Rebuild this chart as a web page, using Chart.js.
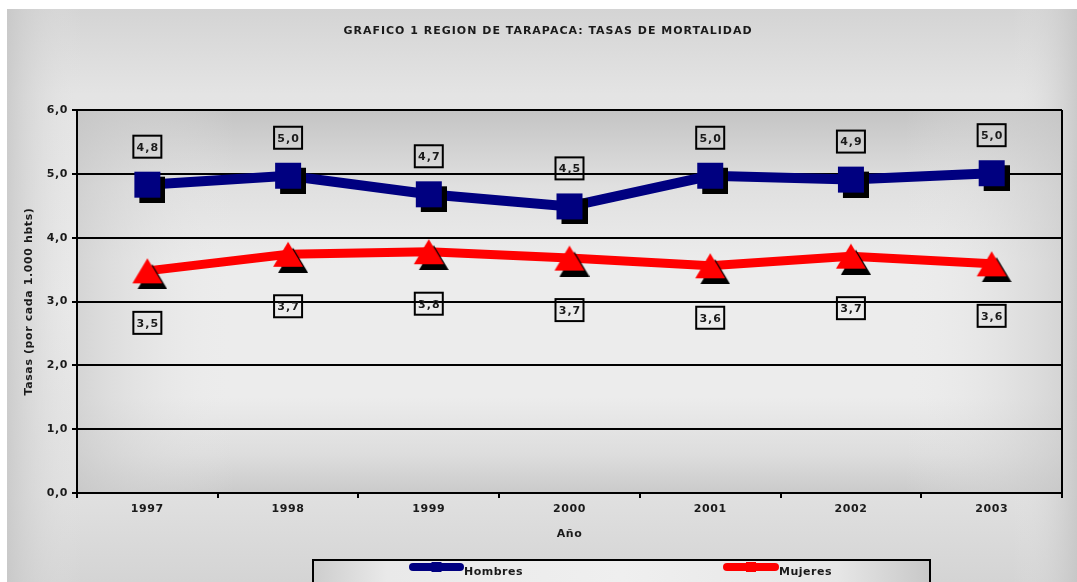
<!DOCTYPE html>
<html>
<head>
<meta charset="utf-8">
<script src="https://cdn.jsdelivr.net/npm/chart.js@4/dist/chart.umd.min.js"></script>
<style>
  html, body { margin: 0; padding: 0; background: #fff; }
  #wrap { width: 1077px; height: 582px; }
</style>
</head>
<body>
<div id="wrap"><canvas id="graph1" width="1077" height="582"></canvas></div>
<script>
const years = ["1997","1998","1999","2000","2001","2002","2003"];
const hombres = [4.83, 4.97, 4.68, 4.49, 4.97, 4.91, 5.01];
const mujeres = [3.48, 3.74, 3.78, 3.68, 3.56, 3.71, 3.59];
const yTicks = [0, 1, 2, 3, 4, 5, 6];

const FONT = "'DejaVu Sans', Verdana, sans-serif";
const fmt = v => v.toFixed(1).replace(".", ",");

// markers with a black drop shadow, drawn once on small canvases
function marker(shape, color, w, h, dx, dy) {
  const c = document.createElement("canvas");
  c.width = w + 2 * dx;
  c.height = h + 2 * dy;
  const g = c.getContext("2d");
  const draw = (ox, oy, col) => {
    g.fillStyle = col;
    g.beginPath();
    if (shape == "rect") {
      g.rect(ox, oy, w, h);
    } else {
      g.moveTo(ox + w / 2, oy);
      g.lineTo(ox + w, oy + h);
      g.lineTo(ox, oy + h);
      g.closePath();
    }
    g.fill();
  };
  draw(2 * dx, 2 * dy, "#000");
  draw(dx, dy, color);
  return c;
}
const sqMark = marker("rect", "#000080", 26, 26, 5, 5);
const triMark = marker("tri", "#ff0000", 30, 25, 5, 6);

function vGrad(ctx, top, bottom, stops) {
  const g = ctx.createLinearGradient(0, top, 0, bottom);
  stops.forEach(s => g.addColorStop(s[0], s[1]));
  return g;
}
function hGrad(ctx, left, right, stops) {
  const g = ctx.createLinearGradient(left, 0, right, 0);
  stops.forEach(s => g.addColorStop(s[0], s[1]));
  return g;
}

const bgPlugin = {
  id: "bg",
  beforeDraw(chart) {
    const ctx = chart.ctx;
    const W = chart.width, H = chart.height;
    ctx.save();
    // outer panel
    const ox = 7, oy = 9;
    ctx.fillStyle = vGrad(ctx, oy, H, [[0, "#d4d4d4"], [0.15, "#e4e4e4"], [0.5, "#eaeaea"], [0.85, "#e0e0e0"], [1, "#d4d4d4"]]);
    ctx.fillRect(ox, oy, W - ox, H - oy);
    ctx.fillStyle = hGrad(ctx, ox, W, [[0, "rgba(198,198,198,0.8)"], [0.07, "rgba(230,230,230,0)"], [0.94, "rgba(230,230,230,0)"], [1, "rgba(196,196,196,0.8)"]]);
    ctx.fillRect(ox, oy, W - ox, H - oy);
    // plot area
    const a = chart.chartArea;
    ctx.fillStyle = vGrad(ctx, a.top, a.bottom, [[0, "#c4c4c4"], [0.2, "#e0e0e0"], [0.4, "#ececec"], [0.75, "#ececec"], [0.9, "#dddddd"], [1, "#cacaca"]]);
    ctx.fillRect(a.left, a.top, a.right - a.left, a.bottom - a.top);
    ctx.fillStyle = hGrad(ctx, a.left, a.right, [[0, "rgba(200,200,200,0.65)"], [0.16, "rgba(236,236,236,0)"], [0.84, "rgba(236,236,236,0)"], [1, "rgba(200,200,200,0.65)"]]);
    ctx.fillRect(a.left, a.top, a.right - a.left, a.bottom - a.top);
    ctx.restore();
    ctx.letterSpacing = "0.6px";
  },
  afterDatasetsDraw(chart) {
    const ctx = chart.ctx;
    const a = chart.chartArea;
    ctx.save();
    // right border of plot
    ctx.strokeStyle = "#000";
    ctx.lineWidth = 2;
    ctx.beginPath();
    ctx.moveTo(a.right, a.top);
    ctx.lineTo(a.right, a.bottom);
    ctx.stroke();
    // value labels in boxes
    ctx.font = "bold 11px " + FONT;
    ctx.letterSpacing = "1px";
    ctx.textAlign = "center";
    ctx.textBaseline = "middle";
    chart.data.datasets.forEach((ds, i) => {
      const meta = chart.getDatasetMeta(i);
      const dy = i == 0 ? -38 : 52;
      meta.data.forEach((pt, j) => {
        const x = pt.x, y = pt.y + dy;
        ctx.lineWidth = 2;
        ctx.strokeStyle = "#000";
        ctx.strokeRect(x - 14, y - 11, 28, 22);
        ctx.fillStyle = "#1a1a1a";
        ctx.fillText(fmt(ds.data[j]), x + 0.5, y + 1);
      });
    });
    ctx.restore();
  },
  afterDraw(chart) {
    const ctx = chart.ctx;
    ctx.save();
    // title
    ctx.font = "bold 11px " + FONT;
    ctx.letterSpacing = "1px";
    ctx.fillStyle = "#1a1a1a";
    ctx.textAlign = "center";
    ctx.textBaseline = "middle";
    ctx.fillText("GRAFICO 1 REGION DE TARAPACA: TASAS DE MORTALIDAD", 548, 31);
    // legend box
    const lx = 313, ly = 560, lw = 617;
    ctx.fillStyle = hGrad(ctx, lx, lx + lw, [[0, "#cdcdcd"], [0.12, "#e9e9e9"], [0.5, "#efefef"], [0.85, "#e6e6e6"], [1, "#c8c8c8"]]);
    ctx.fillRect(lx, ly, lw, 40);
    ctx.lineWidth = 2;
    ctx.strokeStyle = "#000";
    ctx.strokeRect(lx, ly, lw, 40);
    const items = [[413, 460], [727, 775]];
    chart.data.datasets.forEach((ds, i) => {
      const [x0, x1] = items[i];
      ctx.strokeStyle = ds.borderColor;
      ctx.lineWidth = 8;
      ctx.lineCap = "round";
      ctx.beginPath();
      ctx.moveTo(x0, 567);
      ctx.lineTo(x1, 567);
      ctx.stroke();
      ctx.fillStyle = ds.borderColor;
      ctx.fillRect((x0 + x1) / 2 - 5, 562, 10, 10);
      ctx.fillStyle = "#1a1a1a";
      ctx.textAlign = "left";
      ctx.letterSpacing = "0.5px";
      ctx.fillText(ds.label, x1 + 4, 572);
    });
    ctx.restore();
  }
};

new Chart("graph1", {
  type: "line",
  data: {
    labels: years,
    datasets: [{
      label: "Hombres",
      data: hombres,
      borderColor: "#000080",
      backgroundColor: "#000080",
      borderWidth: 10,
      pointStyle: sqMark,
      fill: false
    }, {
      label: "Mujeres",
      data: mujeres,
      borderColor: "#ff0000",
      backgroundColor: "#ff0000",
      borderWidth: 9,
      pointStyle: triMark,
      fill: false
    }]
  },
  options: {
    responsive: false,
    animation: false,
    layout: { padding: { top: 110, right: 15, bottom: 41, left: 0 } },
    plugins: { legend: { display: false }, title: { display: false }, tooltip: { enabled: false } },
    scales: {
      x: {
        offset: true,
        afterFit(s) { s.height = 48; },
        grid: { offset: true, drawOnChartArea: false, drawTicks: true, tickLength: 5, color: "#000", lineWidth: 2 },
        border: { display: true, color: "#000", width: 2 },
        ticks: { color: "#1a1a1a", font: { family: FONT, size: 11, weight: "bold" }, padding: 5, maxRotation: 0 },
        title: { display: true, text: "Año", color: "#1a1a1a", font: { family: FONT, size: 11, weight: "bold" }, padding: 0 }
      },
      y: {
        min: 0,
        max: 6,
        afterFit(s) { s.width = 77; },
        afterBuildTicks(s) { s.ticks = yTicks.map(v => ({ value: v })); },
        grid: { color: "#000", lineWidth: 2, drawTicks: true, tickLength: 5 },
        border: { display: true, color: "#000", width: 2 },
        ticks: { color: "#1a1a1a", font: { family: FONT, size: 11, weight: "bold" }, padding: 4, callback: v => fmt(v) },
        title: { display: true, text: "Tasas (por cada 1.000 hbts)", color: "#1a1a1a", font: { family: FONT, size: 11, weight: "bold" }, padding: { top: 23, bottom: 0 } }
      }
    }
  },
  plugins: [bgPlugin]
});
</script>
</body>
</html>
